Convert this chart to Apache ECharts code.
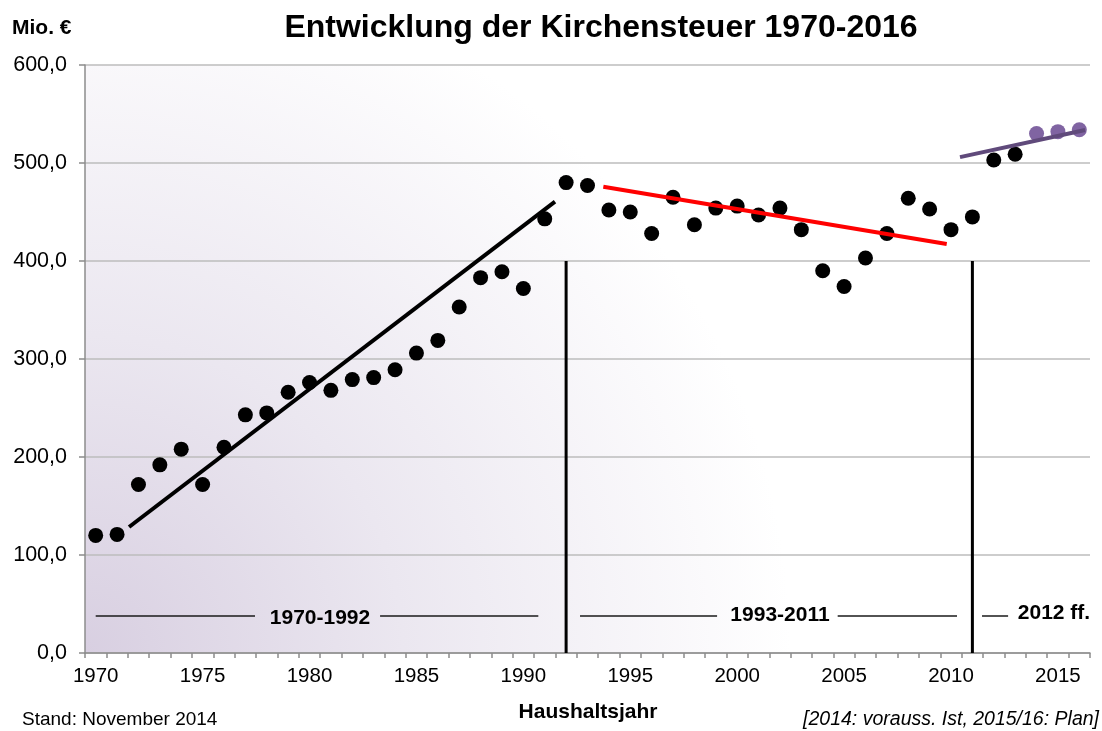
<!DOCTYPE html>
<html>
<head>
<meta charset="utf-8">
<script src="https://cdn.jsdelivr.net/npm/echarts@6/dist/echarts.min.js"></script>
<style>
html,body{margin:0;padding:0;background:#fff;}
#chart{width:1102px;height:731px;}
</style>
</head>
<body>
<div id="chart"></div>
<script>
// ---- data ----
const years = [];
for (let y = 1970; y <= 2016; y++) years.push(String(y));
const actualYears = ['1970','1971','1972','1973','1974','1975','1976','1977','1978','1979',
  '1980','1981','1982','1983','1984','1985','1986','1987','1988','1989',
  '1990','1991','1992','1993','1994','1995','1996','1997','1998','1999',
  '2000','2001','2002','2003','2004','2005','2006','2007','2008','2009',
  '2010','2011','2012','2013'];
const actualValues = [120,121,172,192,208,172,210,243,245,266,
  276,268,279,281,289,306,319,353,383,389,
  372,443,480,477,452,450,428,465,437,454,
  456,447,454,432,390,374,403,428,464,453,
  432,445,503,509];
const planYears = ['2014','2015','2016'];
const planValues = [530,532,534];
const trend1970 = [[1971.56,128.6],[1991.48,460.5]];
const trend1993 = [[1993.74,475.8],[2009.8,417.3]];
const trend2012 = [[2010.42,506],[2016.27,533.7]];
const dividers = [1992, 2011];
const dividerTop = 400;
const periodLabels = ['1970-1992','1993-2011','2012 ff.'];
const periodLines = [
  [[1970.0,37.8],[1977.45,37.8]],
  [[1983.3,37.8],[1990.7,37.8]],
  [[1992.65,37.8],[1999.06,37.8]],
  [[2004.7,37.8],[2010.28,37.8]],
  [[2011.45,37.8],[2012.67,37.8]]
];

const FONT = '"Liberation Sans", Arial, sans-serif';
const chart = echarts.init(document.getElementById('chart'));

const series = [
  {
    type:'scatter', xAxisIndex:0, yAxisIndex:0, symbolSize:15,
    itemStyle:{color:'#000', opacity:1},
    data: actualYears.map((y,i)=>[y, actualValues[i]]), z:5
  },
  {
    type:'scatter', xAxisIndex:0, yAxisIndex:0, symbolSize:15,
    itemStyle:{color:'#8064a2', opacity:1},
    data: planYears.map((y,i)=>[y, planValues[i]]), z:4
  },
  {type:'line', xAxisIndex:1, yAxisIndex:0, data:trend1970, symbol:'none',
   lineStyle:{color:'#000', width:4}, z:6, silent:true},
  {type:'line', xAxisIndex:1, yAxisIndex:0, data:trend1993, symbol:'none',
   lineStyle:{color:'#ff0000', width:4}, z:6, silent:true},
  {type:'line', xAxisIndex:1, yAxisIndex:0, data:trend2012, symbol:'none',
   lineStyle:{color:'#604a7b', width:4}, z:6, silent:true}
];
dividers.forEach(d=>{
  series.push({type:'line', xAxisIndex:1, yAxisIndex:0, data:[[d,0],[d,dividerTop]],
    symbol:'none', lineStyle:{color:'#000', width:3}, z:6, silent:true});
});
periodLines.forEach(seg=>{
  series.push({type:'line', xAxisIndex:1, yAxisIndex:0, data:seg,
    symbol:'none', lineStyle:{color:'#1a1a1a', width:1.5}, z:3, silent:true});
});

chart.setOption({
  animation:false,
  backgroundColor:'#fff',
  textStyle:{fontFamily:FONT},
  grid:{
    left:85, right:12, top:65, bottom:78, show:true, borderWidth:0,
    backgroundColor:{
      type:'radial', x:0, y:1, r:1.2,
      colorStops:[
        {offset:0, color:'#d8cfe1'},
        {offset:0.45, color:'#ebe7f0'},
        {offset:1, color:'#ffffff'}
      ]
    }
  },
  title:{
    text:'Entwicklung der Kirchensteuer 1970-2016',
    left:596, top:7, textAlign:'center',
    textStyle:{fontFamily:FONT, fontSize:32, fontWeight:'bold', color:'#000'}
  },
  xAxis:[
    {
      type:'category', data:years, boundaryGap:true,
      axisLine:{show:true, lineStyle:{color:'#8c8c8c', width:1.5}},
      axisTick:{show:true, interval:0, length:5, lineStyle:{color:'#8c8c8c', width:1.5}},
      axisLabel:{interval:4, fontSize:20.5, color:'#000', margin:13, fontFamily:FONT},
      splitLine:{show:false}
    },
    {
      type:'value', min:1969.5, max:2016.5, show:false
    }
  ],
  yAxis:{
    type:'value', min:0, max:600, interval:100,
    axisLine:{show:true, lineStyle:{color:'#8c8c8c', width:1.5}},
    axisTick:{show:true, length:6, lineStyle:{color:'#8c8c8c', width:1.5}},
    axisLabel:{fontSize:21.5, color:'#000', margin:18, fontFamily:FONT,
      formatter:v=>v.toFixed(1).replace('.',',')},
    splitLine:{show:true, lineStyle:{color:'#bdbdbd', width:1.5}}
  },
  series:series,
  graphic:[
    {type:'text', x:12, y:28, style:{text:'Mio. €', font:'bold 21px '+FONT, fill:'#000', textVerticalAlign:'middle'}},
    {type:'text', x:320, y:618, style:{text:periodLabels[0], font:'bold 21px '+FONT, fill:'#000', textAlign:'center', textVerticalAlign:'middle'}, z:10},
    {type:'text', x:780, y:615, style:{text:periodLabels[1], font:'bold 21px '+FONT, fill:'#000', textAlign:'center', textVerticalAlign:'middle'}, z:10},
    {type:'text', x:1054, y:613, style:{text:periodLabels[2], font:'bold 21px '+FONT, fill:'#000', textAlign:'center', textVerticalAlign:'middle'}, z:10},
    {type:'text', x:588, y:712, style:{text:'Haushaltsjahr', font:'bold 21px '+FONT, fill:'#000', textAlign:'center', textVerticalAlign:'middle'}},
    {type:'text', x:22, y:720, style:{text:'Stand: November 2014', font:'19px '+FONT, fill:'#000', textAlign:'left', textVerticalAlign:'middle'}},
    {type:'text', x:1099, y:720, style:{text:'[2014: vorauss. Ist, 2015/16: Plan]', font:'italic 19.5px '+FONT, fill:'#000', textAlign:'right', textVerticalAlign:'middle'}}
  ]
});
</script>
</body>
</html>
